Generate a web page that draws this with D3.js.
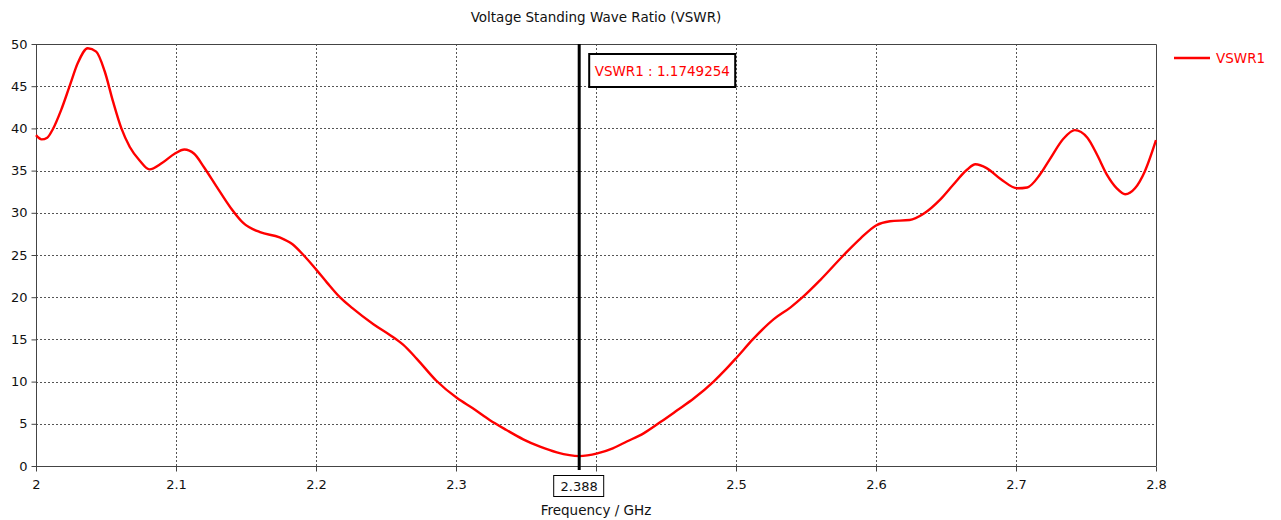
<!DOCTYPE html>
<html>
<head>
<meta charset="utf-8">
<script src="https://cdn.jsdelivr.net/npm/d3@7"></script>
<style>
  html, body { margin: 0; padding: 0; background: #fff; }
  svg { display: block; font-family: "DejaVu Sans", sans-serif; }
</style>
</head>
<body>
<svg id="chart" width="1281" height="520"></svg>
<script>
// Frequency sweep (GHz) and the VSWR measured at each point
const freqGHz = [
  2.000, 2.004, 2.008, 2.012, 2.018, 2.024, 2.030, 2.037, 2.043, 2.049,
  2.055, 2.061, 2.067, 2.074, 2.081, 2.090, 2.099, 2.106, 2.113, 2.120,
  2.129, 2.139, 2.148, 2.160, 2.174, 2.183, 2.191, 2.200, 2.208, 2.217,
  2.226, 2.241, 2.253, 2.262, 2.272, 2.286, 2.301, 2.312, 2.324, 2.336,
  2.348, 2.360, 2.372, 2.388, 2.401, 2.412, 2.422, 2.434, 2.446, 2.458,
  2.470, 2.484, 2.493, 2.501, 2.512, 2.527, 2.539, 2.548, 2.560, 2.577,
  2.589, 2.600, 2.610, 2.624, 2.634, 2.646, 2.655, 2.665, 2.671, 2.679,
  2.689, 2.701, 2.708, 2.717, 2.724, 2.734, 2.742, 2.751, 2.758, 2.765,
  2.772, 2.778, 2.785, 2.792, 2.800
];
const vswr1 = [
  39.2, 38.7, 38.9, 39.9, 42.2, 45.0, 47.8, 49.5, 49.1, 46.8,
  43.2, 40.0, 37.8, 36.2, 35.15, 35.9, 37.0, 37.5, 37.0, 35.4,
  33.1, 30.6, 28.8, 27.7, 27.1, 26.3, 25.0, 23.3, 21.7, 20.0,
  18.7, 16.8, 15.5, 14.4, 12.7, 10.1, 8.02, 6.84, 5.45, 4.27,
  3.16, 2.29, 1.62, 1.1749254, 1.5, 2.1, 2.9, 3.87, 5.2, 6.6,
  8.02, 10.0, 11.5, 12.95, 15.0, 17.4, 18.8, 20.06, 22.0, 25.0,
  26.97, 28.5, 29.0, 29.15, 29.9, 31.6, 33.3, 35.1, 35.75, 35.3,
  34.0, 32.9, 33.0, 34.5, 36.3, 38.8, 39.8, 38.9, 36.85, 34.5,
  32.9, 32.2, 32.9, 34.9, 38.6
];
const xTicks = [2, 2.1, 2.2, 2.3, 2.4, 2.5, 2.6, 2.7, 2.8];
const yTicks = [0, 5, 10, 15, 20, 25, 30, 35, 40, 45, 50];
const seriesName = "VSWR1";
const markerFreq = 2.388;
const markerValue = 1.1749254;
const chartTitle = "Voltage Standing Wave Ratio (VSWR)";
const xTitle = "Frequency / GHz";

const svg = d3.select("#chart");
const plotL = 36, plotR = 1156, plotT = 44, plotB = 466;
const x = d3.scaleLinear().domain([2, 2.8]).range([plotL, plotR]);
const y = d3.scaleLinear().domain([0, 50]).range([plotB, plotT]);
const textColor = "#111";
const axisColor = "#444";
const labelSize = 13.5;
const tickSize = 13;

// title
svg.append("text")
  .attr("x", (plotL + plotR) / 2).attr("y", 22)
  .attr("text-anchor", "middle").attr("font-size", labelSize).attr("fill", textColor)
  .text(chartTitle);

// dotted grid
const grid = svg.append("g").attr("stroke", "#555").attr("stroke-width", 1)
  .attr("stroke-dasharray", "2,2").attr("shape-rendering", "crispEdges");
grid.selectAll("line.h").data(yTicks.filter(d => d > 0 && d < 50)).join("line")
  .attr("x1", plotL).attr("x2", plotR)
  .attr("y1", d => Math.round(y(d)) + 0.5).attr("y2", d => Math.round(y(d)) + 0.5);
grid.selectAll("line.v").data(xTicks.filter(d => d > 2 && d < 2.8)).join("line")
  .attr("y1", plotT).attr("y2", plotB)
  .attr("x1", d => Math.round(x(d)) + 0.5).attr("x2", d => Math.round(x(d)) + 0.5);

// frame: top and right edges
svg.append("path")
  .attr("d", `M${plotL},${plotT + 0.5}H${plotR + 0.5}V${plotB}`)
  .attr("fill", "none").attr("stroke", axisColor).attr("stroke-width", 1);

// the marker's frequency box sits over the x tick label it would collide with
const mx = x(markerFreq);
const boxHalf = 25;
const xAxis = d3.axisBottom(x).tickValues(xTicks).tickSize(5).tickPadding(8)
  .tickFormat(d => Math.abs(x(d) - mx) < boxHalf + 12 ? "" : d3.format("~g")(d));
const yAxis = d3.axisLeft(y).tickValues(yTicks).tickSize(5).tickPadding(4);

const gx = svg.append("g").attr("transform", `translate(0,${plotB + 0.5})`).call(xAxis);
const gy = svg.append("g").attr("transform", `translate(${plotL + 0.5},0)`).call(yAxis);
[gx, gy].forEach(g => {
  g.select(".domain").attr("stroke", axisColor);
  g.selectAll(".tick line").attr("stroke", axisColor);
  g.selectAll(".tick text").attr("fill", textColor).attr("font-size", tickSize)
    .attr("font-family", "DejaVu Sans, sans-serif");
});
gx.select(".domain").attr("d", `M${plotL},0H${plotR + 0.5}`);
gy.select(".domain").attr("d", `M0,${plotT}V${plotB}`);

// x axis title
svg.append("text")
  .attr("x", (plotL + plotR) / 2).attr("y", 515)
  .attr("text-anchor", "middle").attr("font-size", labelSize).attr("fill", textColor)
  .text(xTitle);

// VSWR curve
const pts = freqGHz.map((f, i) => [f, vswr1[i]]);
const line = d3.line().x(d => x(d[0])).y(d => y(d[1])).curve(d3.curveMonotoneX);
svg.append("path").datum(pts)
  .attr("d", line).attr("fill", "none").attr("stroke", "#ff0000").attr("stroke-width", 2.4)
  .attr("stroke-linejoin", "round");

// marker line
svg.append("line")
  .attr("x1", mx).attr("x2", mx).attr("y1", plotT).attr("y2", plotB + 4)
  .attr("stroke", "#000").attr("stroke-width", 3);

// marker frequency box on the x axis
const fLabel = svg.append("g");
fLabel.append("rect")
  .attr("x", mx - boxHalf - 0.5).attr("y", 475.5).attr("width", boxHalf * 2).attr("height", 21)
  .attr("fill", "#fff").attr("stroke", "#000").attr("stroke-width", 1);
fLabel.append("text")
  .attr("x", mx).attr("y", 491).attr("text-anchor", "middle")
  .attr("font-size", tickSize).attr("fill", textColor).text(markerFreq.toFixed(3));

// marker value box
const vLabel = svg.append("g");
vLabel.append("rect")
  .attr("x", mx + 10).attr("y", 54).attr("width", 146).attr("height", 33)
  .attr("fill", "#fff").attr("stroke", "#000").attr("stroke-width", 2);
vLabel.append("text")
  .attr("x", mx + 15.5).attr("y", 75.5)
  .attr("font-size", labelSize).attr("fill", "#ff0000")
  .text(`${seriesName} : ${markerValue}`);

// legend
const lg = svg.append("g").attr("transform", "translate(1174,58)");
lg.append("line").attr("x1", 0).attr("x2", 36).attr("y1", 0).attr("y2", 0)
  .attr("stroke", "#ff0000").attr("stroke-width", 2.4);
lg.append("text").attr("x", 42).attr("y", 5)
  .attr("font-size", labelSize).attr("fill", "#ff0000").text(seriesName);
</script>
</body>
</html>
